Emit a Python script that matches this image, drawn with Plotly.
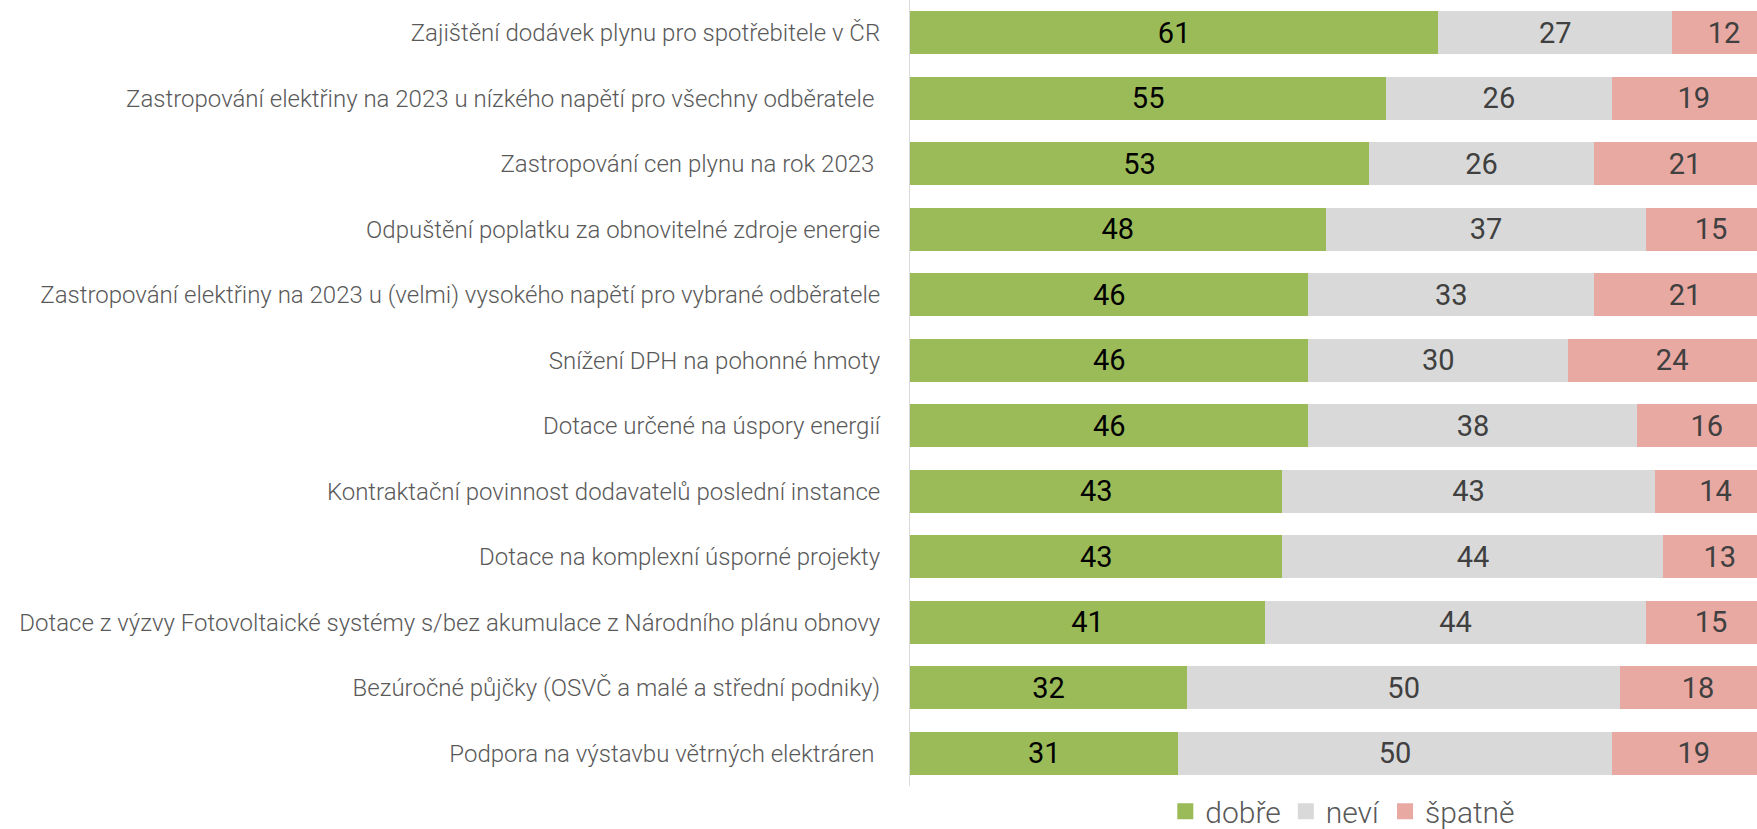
import plotly.graph_objects as go

# Survey items (top to bottom) and answer shares in percent
categories = [
    "Zajištění dodávek plynu pro spotřebitele v ČR",
    "Zastropování elektřiny na 2023 u nízkého napětí pro všechny odběratele\u00a0",
    "Zastropování cen plynu na rok 2023\u00a0",
    "Odpuštění poplatku za obnovitelné zdroje energie",
    "Zastropování elektřiny na 2023 u (velmi) vysokého napětí pro vybrané odběratele",
    "Snížení DPH na pohonné hmoty",
    "Dotace určené na úspory energií",
    "Kontraktační povinnost dodavatelů poslední instance",
    "Dotace na komplexní úsporné projekty",
    "Dotace z výzvy Fotovoltaické systémy s/bez akumulace z Národního plánu obnovy",
    "Bezúročné půjčky (OSVČ a malé a střední podniky)",
    "Podpora na výstavbu větrných elektráren\u00a0",
]
dobre = [61, 55, 53, 48, 46, 46, 46, 43, 43, 41, 32, 31]
nevi = [27, 26, 26, 37, 33, 30, 38, 43, 44, 44, 50, 50]
spatne = [12, 19, 21, 15, 21, 24, 16, 14, 13, 15, 18, 19]

series = [
    ("dobře", dobre, "#9BBB59", "#000000"),
    ("neví", nevi, "#D9D9D9", "#404040"),
    ("špatně", spatne, "#E8A9A3", "#404040"),
]

FONT = "Roboto"

fig = go.Figure()
for name, vals, color, txtcolor in series:
    fig.add_trace(go.Bar(
        y=categories,
        x=vals,
        name=name,
        orientation="h",
        marker=dict(color=color, line=dict(width=0)),
        text=vals,
        texttemplate="%{text}",
        textposition="inside",
        insidetextanchor="middle",
        textfont=dict(family=FONT, size=29, color=txtcolor),
        constraintext="none",
        showlegend=False,
    ))

# Legend entries with larger square swatches
for name, vals, color, txtcolor in series:
    fig.add_trace(go.Scatter(
        x=[None],
        y=[None],
        mode="markers",
        name=name,
        marker=dict(symbol="square", size=16, color=color),
        showlegend=True,
        hoverinfo="skip",
    ))

fig.update_layout(
    barmode="stack",
    bargap=0.34,
    width=1757,
    height=829,
    margin=dict(l=910, r=0, t=0, b=43, autoexpand=False),
    paper_bgcolor="white",
    plot_bgcolor="white",
    font=dict(family=FONT, color="#595959"),
    showlegend=True,
    legend=dict(
        orientation="h",
        x=0.511,
        xanchor="center",
        y=-0.032,
        yanchor="middle",
        font=dict(family=FONT, size=30, color="#595959", weight=300),
        traceorder="normal",
        itemwidth=30,
    ),
    xaxis=dict(
        range=[0, 97.8],
        showgrid=False,
        zeroline=False,
        showticklabels=False,
        showline=False,
        fixedrange=True,
    ),
    yaxis=dict(
        categoryorder="array",
        categoryarray=categories,
        autorange="reversed",
        showgrid=False,
        zeroline=False,
        showline=True,
        linecolor="#D9D9D9",
        linewidth=1,
        ticks="",
        ticklabelstandoff=24,
        tickfont=dict(family=FONT, size=24, color="#595959", weight=300),
        automargin=False,
    ),
)

fig.write_html("out.html")
